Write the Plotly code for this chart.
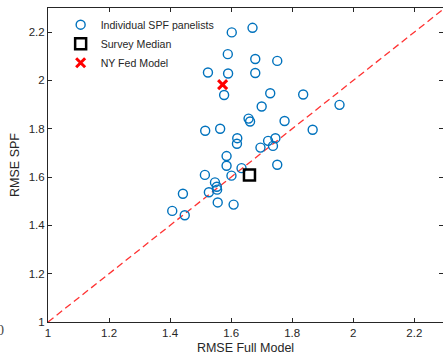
import plotly.graph_objects as go

# Individual SPF panelists (RMSE Full Model, RMSE SPF)
panel_x = [1.602, 1.670, 1.589, 1.679, 1.751, 1.524, 1.590, 1.679, 1.577, 1.728,
           1.836, 1.955, 1.700, 1.657, 1.662, 1.775, 1.515, 1.564, 1.867, 1.620,
           1.619, 1.721, 1.745, 1.737, 1.696, 1.585, 1.585, 1.751, 1.634, 1.514,
           1.601, 1.547, 1.553, 1.554, 1.442, 1.527, 1.556, 1.608, 1.407, 1.448]
panel_y = [2.199, 2.218, 2.109, 2.089, 2.081, 2.033, 2.029, 2.031, 1.940, 1.947,
           1.942, 1.899, 1.892, 1.842, 1.830, 1.832, 1.792, 1.800, 1.796, 1.761,
           1.738, 1.750, 1.761, 1.729, 1.722, 1.687, 1.647, 1.651, 1.637, 1.609,
           1.606, 1.578, 1.560, 1.548, 1.531, 1.537, 1.495, 1.486, 1.460, 1.442]

median_x = [1.660]
median_y = [1.609]

nyfed_x = [1.572]
nyfed_y = [1.983]

diag = [1.0, 2.3]

x_ticks = [1, 1.2, 1.4, 1.6, 1.8, 2, 2.2]
x_tick_text = ["1", "1.2", "1.4", "1.6", "1.8", "2", "2.2"]
y_ticks = [1, 1.2, 1.4, 1.6, 1.8, 2, 2.2]
y_tick_text = ["1", "1.2", "1.4", "1.6", "1.8", "2", "2.2"]

fig = go.Figure()

fig.add_trace(go.Scatter(
    x=diag, y=diag, mode="lines", showlegend=False,
    line=dict(color="rgb(255,50,50)", width=1.3, dash="7px,4px"),
    hoverinfo="skip"))

fig.add_trace(go.Scatter(
    x=panel_x, y=panel_y, mode="markers", name="Individual SPF panelists",
    marker=dict(symbol="circle-open", size=9, color="#0072BD",
                line=dict(width=1.4, color="#0072BD"))))

fig.add_trace(go.Scatter(
    x=median_x, y=median_y, mode="markers", name="Survey Median",
    marker=dict(symbol="square-open", size=11, color="black",
                line=dict(width=2.5, color="black"))))

fig.add_trace(go.Scatter(
    x=nyfed_x, y=nyfed_y, mode="markers", name="NY Fed Model",
    marker=dict(symbol="x-thin-open", size=9, color="red",
                line=dict(width=3, color="red"))))

fig.add_annotation(
    xref="paper", yref="paper", x=-0.1065, y=-0.0255, text="0",
    showarrow=False, xanchor="right", yanchor="middle",
    font=dict(family="Liberation Serif", size=14, color="#444444"))

axis_common = dict(
    showline=True, linecolor="#262626", linewidth=1, mirror="ticks",
    ticks="inside", ticklen=4, tickwidth=1, tickcolor="#262626",
    showgrid=False, zeroline=False, automargin=False,
    tickfont=dict(family="Liberation Sans", size=11.5, color="#262626"),
)

fig.update_xaxes(range=[1, 2.294], tickvals=x_ticks, ticktext=x_tick_text,
                 title=dict(text="RMSE Full Model", standoff=5,
                            font=dict(family="Liberation Sans", size=12.5, color="#262626")),
                 **axis_common)
fig.update_yaxes(range=[1, 2.3], tickvals=y_ticks, ticktext=y_tick_text,
                 title=dict(text="RMSE SPF", standoff=6,
                            font=dict(family="Liberation Sans", size=12.5, color="#262626")),
                 **axis_common)

fig.update_layout(
    width=443, height=358,
    margin=dict(l=48, r=0, t=8, b=36, autoexpand=False),
    paper_bgcolor="white", plot_bgcolor="white",
    showlegend=True,
    legend=dict(x=0.032, y=0.993, xanchor="left", yanchor="top",
                bgcolor="rgba(255,255,255,0)", borderwidth=0,
                font=dict(family="Liberation Sans", size=10.6, color="#262626"),
                tracegroupgap=0),
)

fig.write_html("out.html",
               config={"displayModeBar": False},
               post_script="document.body.style.margin='0';document.body.style.overflow='hidden';")
